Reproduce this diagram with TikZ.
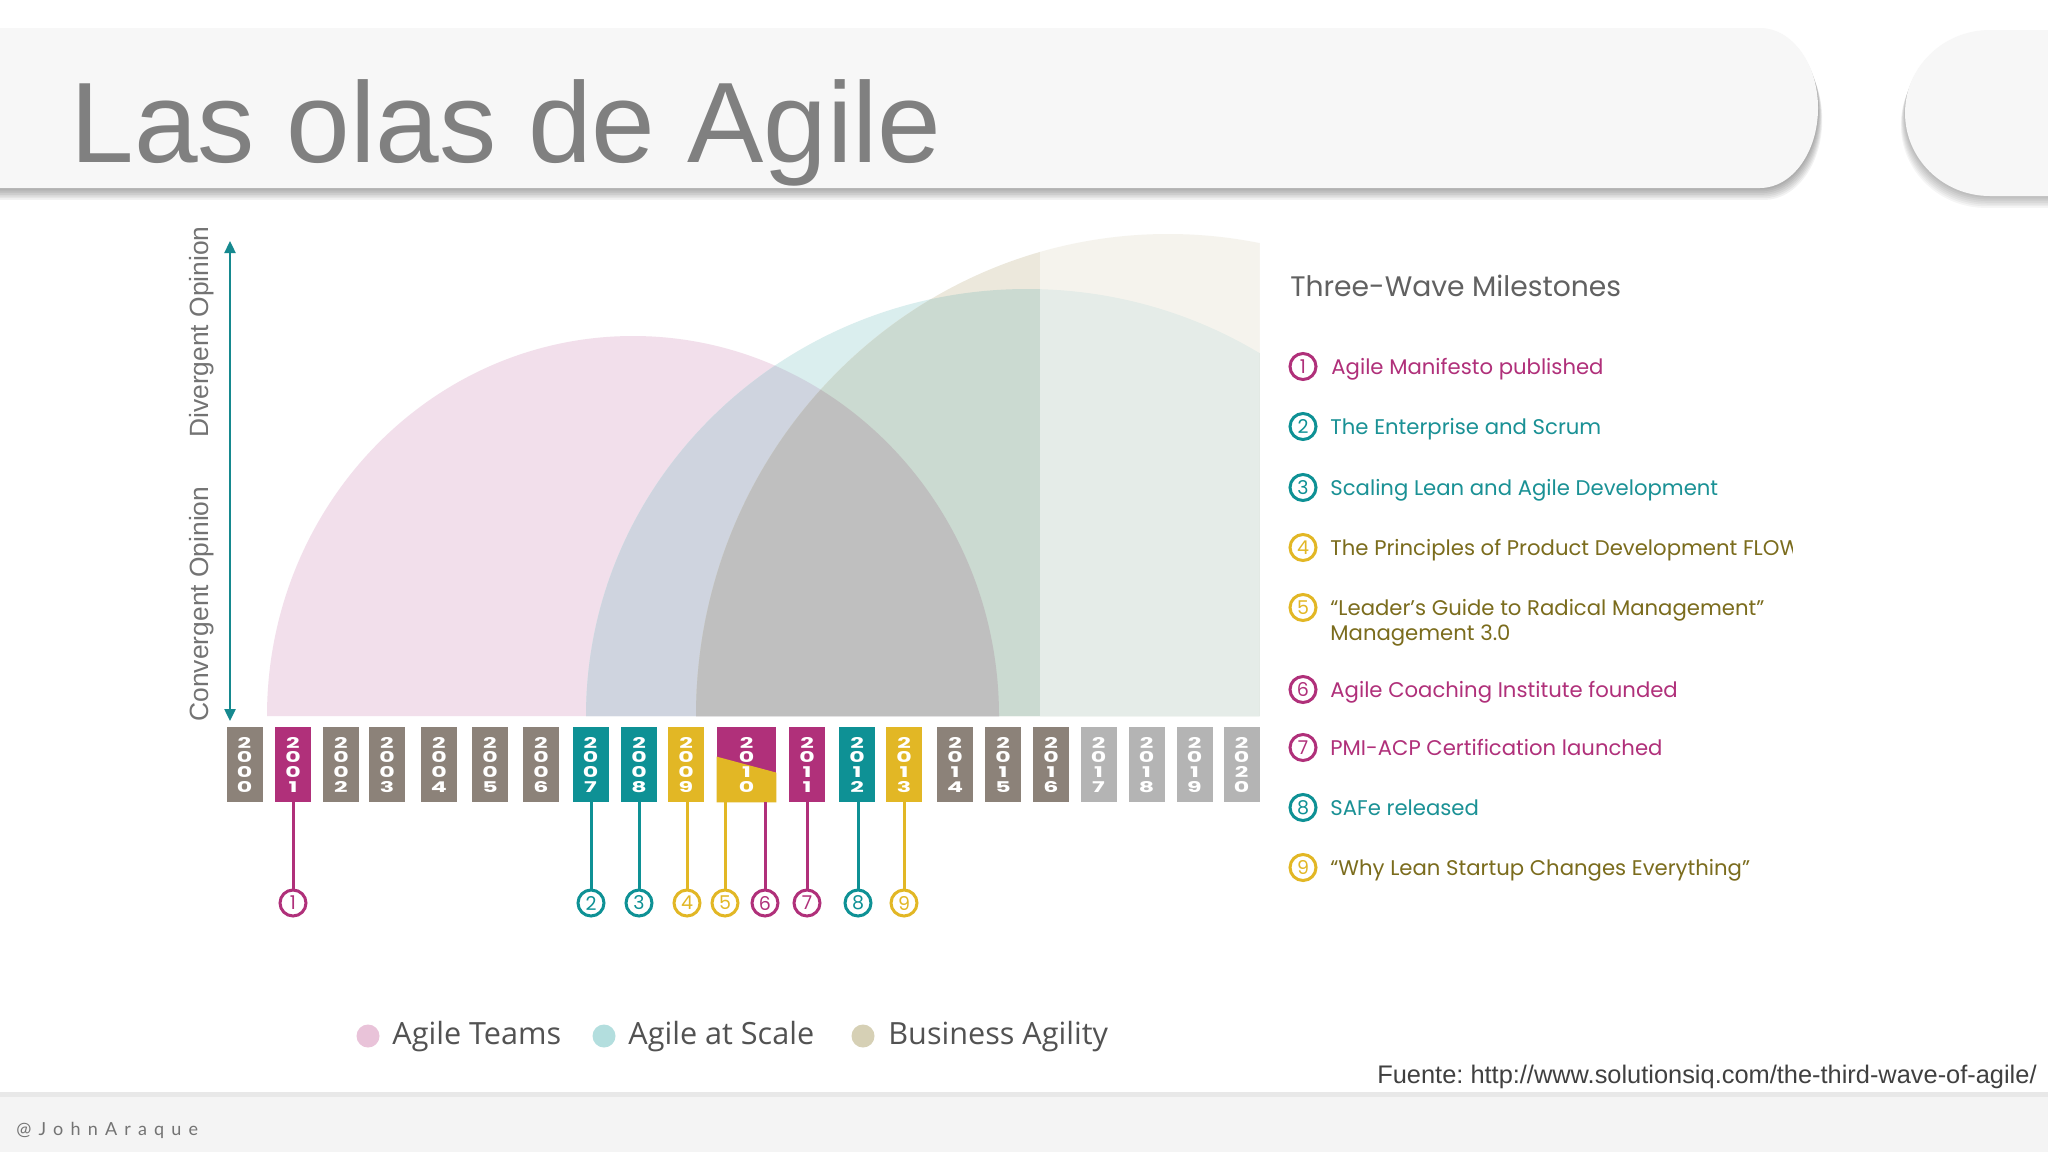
\documentclass[tikz,border=0pt]{standalone}
\usepackage{fontspec}
\setmainfont{Liberation Sans}
\newfontfamily\geo{Poppins}
\newfontfamily\yearfont{Poppins}
\newfontfamily\osans{Open Sans}
\newfontfamily\lato[LetterSpace=40]{Lato}
\usetikzlibrary{arrows.meta,calc}
\frenchspacing

\definecolor{mag}{HTML}{B0307A}
\definecolor{tealc}{HTML}{0E9195}
\definecolor{tealt}{HTML}{1A9195}
\definecolor{yel}{HTML}{E2B725}
\definecolor{olive}{HTML}{7B6C1D}
\definecolor{grayb}{HTML}{8C8279}
\definecolor{lgray}{HTML}{B4B4B4}
\definecolor{axisc}{HTML}{16898F}
\definecolor{colP}{HTML}{F2DFEB}
\definecolor{colT}{HTML}{DAEEEE}
\definecolor{colB}{HTML}{ECE8DC}
\definecolor{colPT}{HTML}{CFD4DF}
\definecolor{colTB}{HTML}{CBDAD1}
\definecolor{colPB}{HTML}{DFCBCB}
\definecolor{colPTB}{HTML}{BFBFBF}
\definecolor{bannerc}{HTML}{F7F7F7}
\definecolor{titlec}{HTML}{808080}
\definecolor{legP}{HTML}{E9C3D9}
\definecolor{legT}{HTML}{B3DEDE}
\definecolor{legB}{HTML}{D6D0B5}
\definecolor{footc}{HTML}{F4F4F4}

\newcommand{\wdig}[1]{\scalebox{1.6}[1]{#1}}
\tikzset{
 ybox/.style={rectangle, inner sep=0, minimum width=18pt, minimum height=37.5pt},
 ydig/.style={inner sep=0, align=center, text=white, font=\yearfont\bfseries\fontsize{7.4}{7.4}\selectfont},
 mcirc/.style={circle, draw=#1, line width=1.5pt, fill=white, minimum size=13pt, inner sep=0, text=#1, font=\geo\fontsize{9.5}{9.5}\selectfont},
 stem/.style={draw=#1, line width=1.5pt},
 item/.style={anchor=base west, inner sep=0, font=\geo\fontsize{10.6}{12.5}\selectfont, text=#1},
 legdot/.style={circle, fill=#1, minimum size=11.5pt, inner sep=0},
 legtxt/.style={anchor=base west, inner sep=0, text=black!68, font=\osans\fontsize{15.3}{16}\selectfont},
 axlabel/.style={rotate=90, inner sep=0, text=black!55, font=\fontsize{13.2}{14}\selectfont},
}

\begin{document}
\begin{tikzpicture}[x=0.5pt,y=-0.5pt]
\useasboundingbox (0,0) rectangle (2048,1152);
\fill[white] (0,0) rectangle (2048,1152);

% ---- banners with shadows
\foreach \d in {1,...,7}{
 \begin{scope}[shift={(\d*0.6,\d*1.7)}]
  \fill[black,opacity=0.05] (-20,28) -- (1760,28) arc[start angle=-90,end angle=90,x radius=58,y radius=80] -- (-20,188) -- cycle;
 \end{scope}
 \begin{scope}[shift={(-\d*0.6,\d*1.7)}]
  \fill[black,opacity=0.04] (2070,30) -- (1990,30) arc[start angle=-90,end angle=-270,x radius=85,y radius=83] -- (2070,196) -- cycle;
 \end{scope}
}
\fill[bannerc] (-20,28) -- (1760,28) arc[start angle=-90,end angle=90,x radius=58,y radius=80] -- (-20,188) -- cycle;
\fill[bannerc] (2070,30) -- (1990,30) arc[start angle=-90,end angle=-270,x radius=85,y radius=83] -- (2070,196) -- cycle;

\node[anchor=base west, inner sep=0, text=titlec, font=\fontsize{57.2}{60}\selectfont] (title) at (70,162) {Las olas de Agile};

% ---- waves
\begin{scope}
 \clip (0,205) rectangle (1259.5,716);
 \fill[colP] (267,716) arc[start angle=180,end angle=360,x radius=366,y radius=380] -- cycle;
 \fill[colT] (586,716) arc[start angle=180,end angle=360,x radius=441,y radius=427] -- cycle;
 \fill[colB] (696,716) arc[start angle=180,end angle=360,x radius=472,y radius=482] -- cycle;
 \begin{scope}
  \clip (267,716) arc[start angle=180,end angle=360,x radius=366,y radius=380] -- cycle;
  \fill[colPT] (586,716) arc[start angle=180,end angle=360,x radius=441,y radius=427] -- cycle;
  \fill[colPB] (696,716) arc[start angle=180,end angle=360,x radius=472,y radius=482] -- cycle;
 \end{scope}
 \begin{scope}
  \clip (586,716) arc[start angle=180,end angle=360,x radius=441,y radius=427] -- cycle;
  \fill[colTB] (696,716) arc[start angle=180,end angle=360,x radius=472,y radius=482] -- cycle;
  \clip (267,716) arc[start angle=180,end angle=360,x radius=366,y radius=380] -- cycle;
  \fill[colPTB] (696,716) arc[start angle=180,end angle=360,x radius=472,y radius=482] -- cycle;
 \end{scope}
 \fill[white,opacity=0.5] (1040,205) rectangle (1260,716);
\end{scope}

% ---- axis
\coordinate (atop) at (230,241);
\coordinate (abot) at (230,721);
\draw[axisc, line width=1.2pt, {Triangle[length=6pt,width=5.5pt]}-{Triangle[length=6pt,width=5.5pt]}] (atop) -- (abot);
\node[axlabel] (divl) at (202,332) {Divergent Opinion};
\node[axlabel] (convl) at (202,604) {Convergent Opinion};

% ---- year boxes
\foreach \cx/\yr/\col/\da/\db/\dc/\dd in {
 244.5/2000/grayb/2/0/0/0, 293/2001/mag/2/0/0/1, 341/2002/grayb/2/0/0/2,
 387/2003/grayb/2/0/0/3, 439/2004/grayb/2/0/0/4, 490/2005/grayb/2/0/0/5,
 541/2006/grayb/2/0/0/6, 590.5/2007/tealc/2/0/0/7, 639/2008/tealc/2/0/0/8,
 686/2009/yel/2/0/0/9, 807/2011/mag/2/0/1/1, 857/2012/tealc/2/0/1/2,
 904/2013/yel/2/0/1/3, 955/2014/grayb/2/0/1/4, 1003/2015/grayb/2/0/1/5,
 1051/2016/grayb/2/0/1/6, 1098.5/2017/lgray/2/0/1/7, 1146.5/2018/lgray/2/0/1/8,
 1194.5/2019/lgray/2/0/1/9, 1241.5/2020/lgray/2/0/2/0}{
 \node[ybox, fill=\col] (y\yr) at (\cx,764.5) {};
 \node[ydig] at (\cx,764.8) {\wdig{\da}\\\wdig{\db}\\\wdig{\dc}\\\wdig{\dd}};
}
\node[ybox, fill=mag, minimum width=29.5pt] (y2010) at (746.5,764.5) {};
\fill[yel] ($(y2010.north west)+(0,30)$) -- ($(y2010.north east)+(0,46)$) -- (y2010.south east) -- (y2010.south west) -- cycle;
\node[ydig] at (746.5,764.8) {\wdig{2}\\\wdig{0}\\\wdig{1}\\\wdig{0}};

% ---- milestone circles under timeline
\node[mcirc=mag] (m1) at (293,903) {1};
\node[mcirc=tealc] (m2) at (591,903) {2};
\node[mcirc=tealc] (m3) at (639,903) {3};
\node[mcirc=yel] (m4) at (687,903) {4};
\node[mcirc=yel] (m5) at (725,903) {5};
\node[mcirc=mag] (m6) at (765,903) {6};
\node[mcirc=mag] (m7) at (807,903) {7};
\node[mcirc=tealc] (m8) at (858,903) {8};
\node[mcirc=yel] (m9) at (904,903) {9};

\draw[stem=mag] (m1 |- y2001.south) -- (m1.north);
\draw[stem=tealc] (m2 |- y2007.south) -- (m2.north);
\draw[stem=tealc] (m3 |- y2008.south) -- (m3.north);
\draw[stem=yel] (m4 |- y2009.south) -- (m4.north);
\draw[stem=yel] (m5 |- y2010.south) -- (m5.north);
\draw[stem=mag] (m6 |- y2010.south) -- (m6.north);
\draw[stem=mag] (m7 |- y2011.south) -- (m7.north);
\draw[stem=tealc] (m8 |- y2012.south) -- (m8.north);
\draw[stem=yel] (m9 |- y2013.south) -- (m9.north);

% ---- milestones list
\node[anchor=base west, inner sep=0, text=black!62, font=\geo\fontsize{14.1}{16}\selectfont] (head) at (1290,296) {Three-Wave Milestones};

\node[mcirc=mag] (l1) at (1303,366.5) {1};
\node[item=mag] (t1) at (1331,374) {Agile Manifesto published};
\node[mcirc=tealc] (l2) at (1303,426.5) {2};
\node[item=tealt] (t2) at (1330,434) {The Enterprise and Scrum};
\node[mcirc=tealc] (l3) at (1303,487.5) {3};
\node[item=tealt] (t3) at (1330,495) {Scaling Lean and Agile Development};
\node[mcirc=yel] (l4) at (1303,547.5) {4};
\begin{scope}
 \clip (1320,520) rectangle (1792,575);
 \node[item=olive] (t4) at (1330,555) {The Principles of Product Development FLOW};
\end{scope}
\node[mcirc=yel] (l5) at (1303,607.5) {5};
\node[item=olive] (t5) at (1330,615) {“Leader’s Guide to Radical Management”};
\node[item=olive] (t5b) at (1330,640) {Management 3.0};
\node[mcirc=mag] (l6) at (1303,689.5) {6};
\node[item=mag] (t6) at (1330,697) {Agile Coaching Institute founded};
\node[mcirc=mag] (l7) at (1303,747.5) {7};
\node[item=mag] (t7) at (1330,755) {PMI-ACP Certification launched};
\node[mcirc=tealc] (l8) at (1303,807.5) {8};
\node[item=tealt] (t8) at (1330,815) {SAFe released};
\node[mcirc=yel] (l9) at (1303,867.5) {9};
\node[item=olive] (t9) at (1330,875) {“Why Lean Startup Changes Everything”};

% ---- legend
\node[legdot=legP] (d1) at (368,1036) {};
\node[legtxt] (g1) at (392,1044) {Agile Teams};
\node[legdot=legT] (d2) at (604,1036) {};
\node[legtxt] (g2) at (628,1044) {Agile at Scale};
\node[legdot=legB] (d3) at (863,1036) {};
\node[legtxt] (g3) at (888,1044) {Business Agility};

% ---- source
\node[anchor=base east, inner sep=0, text=black!75, font=\fontsize{12.7}{14}\selectfont] (src) at (2037,1083) {Fuente: http://www.solutionsiq.com/the-third-wave-of-agile/};

% ---- footer
\fill[black!9] (0,1092) rectangle (2048,1097);
\fill[footc] (0,1097) rectangle (2048,1152);
\node[anchor=base west, inner sep=0, text=black!55, font=\lato\fontsize{9}{10}\selectfont] (handle) at (16,1135) {@JohnAraque};
\end{tikzpicture}
\end{document}
